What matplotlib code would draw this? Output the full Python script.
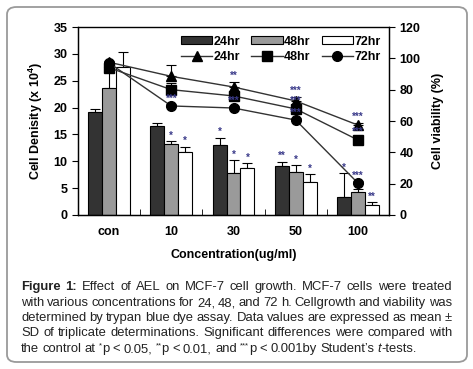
import matplotlib
matplotlib.use("Agg")
import matplotlib.pyplot as plt
import numpy as np
from matplotlib.patches import FancyBboxPatch

plt.rcParams['font.family'] = ['Liberation Sans', 'DejaVu Sans']
plt.rcParams['mathtext.fontset'] = 'custom'
plt.rcParams['mathtext.rm'] = 'Liberation Sans'
plt.rcParams['mathtext.bf'] = 'Liberation Sans:bold'
plt.rcParams['mathtext.it'] = 'Liberation Sans:italic'

# ---- data ----
groups = ['con', '10', '30', '50', '100']
hours = ['24hr', '48hr', '72hr']

# cell density (x 10^4), left axis
dens_24 = [19.1, 16.6, 13.1, 9.1, 3.3]
dens_48 = [23.7, 13.3, 7.9, 8.0, 4.3]
dens_72 = [27.5, 11.8, 8.8, 6.1, 1.8]
dens_24_err = [0.7, 0.6, 1.3, 0.8, 4.5]
dens_48_err = [3.5, 0.4, 2.3, 1.3, 0.5]
dens_72_err = [2.9, 0.9, 0.8, 1.5, 0.6]

# cell viability (%), right axis
via_24 = [97.5, 88.5, 81.7, 72.8, 57.4]
via_48 = [94.0, 80.0, 76.0, 67.7, 47.9]
via_72 = [97.0, 69.6, 68.3, 60.6, 20.4]
via_24_err = [0.5, 7.5, 3.5, 2.5, 1.5]
via_48_err = [0.5, 4.0, 1.5, 1.5, 1.5]
via_72_err = [0.5, 1.0, 1.0, 1.0, 1.0]

# significance marks
dens_stars = {
    '24hr': ['', '', '*', '**', '*'],
    '48hr': ['', '*', '*', '*', '*'],
    '72hr': ['', '*', '*', '*', '**'],
}
via_stars = {
    '24hr': ['', '', '**', '***', '***'],
    '48hr': ['', '', '', '***', '***'],
    '72hr': ['', '***', '***', '***', '***'],
}

# caption: "^" marks a superscript piece, "_i" an italic piece, "_b" bold
caption_lines = [
    "_bFigure 1: Effect of AEL on MCF-7 cell growth. MCF-7 cells were treated",
    "with various concentrations for 24, 48, and 72 h. Cellgrowth and viability was",
    "determined by trypan blue dye assay. Data values are expressed as mean \u00b1",
    "SD of triplicate determinations. Significant differences were compared with",
    "the control at ^*|p < 0.05, ^**|p < 0.01, and ^***|p < 0.001by Student\u2019s _it|-tests.",
]

# ---- figure ----
fig = plt.figure(figsize=(4.73, 3.69), dpi=100)
W, H = 473, 369

border = FancyBboxPatch((7 / W, 7 / H), 460 / W, 355 / H,
                        boxstyle="round,pad=0,rounding_size=0.02",
                        transform=fig.transFigure, fill=False,
                        edgecolor='#9a9a9a', linewidth=1.3)
fig.patches.append(border)

ax = fig.add_axes([78 / W, 1 - 215 / H, 311 / W, 188 / H])
ax2 = ax.twinx()

x = np.arange(len(groups))
bw = 0.225
bar_colors = ['#333333', '#9a9a9a', 'white']
dens = [dens_24, dens_48, dens_72]
dens_err = [dens_24_err, dens_48_err, dens_72_err]
star_col = '#3b3b8a'

bar_handles = []
for i, h in enumerate(hours):
    xs = x + (i - 1) * bw
    b = ax.bar(xs, dens[i], width=bw, color=bar_colors[i], edgecolor='black',
               linewidth=0.8, label=h, zorder=2)
    ax.errorbar(xs, dens[i], yerr=[np.zeros(len(x)), dens_err[i]], fmt='none',
                ecolor='black', elinewidth=0.8, capsize=3.5, capthick=0.8, zorder=1)
    bar_handles.append(b)
    for j in range(len(x)):
        s = dens_stars[h][j]
        if s:
            ax.text(xs[j], dens[i][j] + dens_err[i][j] + 0.1, s, ha='center', va='bottom',
                    fontsize=7, color=star_col, fontweight='bold')

ax.set_xlim(-0.5, len(groups) - 0.5)
ax.set_ylim(0, 35)
ax.set_yticks(np.arange(0, 36, 5))
ax.set_xticks(x)
ax.set_xticklabels(groups, fontsize=9, fontweight='bold')
ax.tick_params(axis='x', length=0, pad=8)
ax.set_xticks(np.arange(0.5, len(groups) - 0.5), minor=True)
ax.tick_params(axis='x', which='minor', direction='in', length=4)
ax.tick_params(axis='y', labelsize=9, length=4)
for lab in ax.get_yticklabels():
    lab.set_fontweight('bold')
ax.set_ylabel(r'Cell Denisity (x 10$^\mathbf{4}$)', fontsize=9, fontweight='bold', labelpad=6)
ax.set_xlabel('Concentration(ug/ml)', fontsize=9, fontweight='bold', labelpad=8)

via = [via_24, via_48, via_72]
via_err = [via_24_err, via_48_err, via_72_err]
markers = ['^', 's', 'o']
line_handles = []
for i, h in enumerate(hours):
    ax2.errorbar(x, via[i], yerr=[np.zeros(len(x)), via_err[i]], fmt='none',
                 ecolor='black', elinewidth=0.8, capsize=3.5, capthick=0.8)
    ln, = ax2.plot(x, via[i], color='#333333', linewidth=1.0, marker=markers[i],
                   markersize=7, markerfacecolor='black', markeredgecolor='black', label=h)
    line_handles.append(ln)
    for j in range(len(x)):
        s = via_stars[h][j]
        if s:
            ax2.text(x[j], via[i][j] + via_err[i][j] + 0.5, s, ha='center', va='bottom',
                     fontsize=7, color=star_col, fontweight='bold')

ax2.set_ylim(0, 120)
ax2.set_yticks(np.arange(0, 121, 20))
ax2.tick_params(axis='y', labelsize=9, length=4)
for lab in ax2.get_yticklabels():
    lab.set_fontweight('bold')
ax2.set_ylabel('Cell viability (%)', fontsize=9, fontweight='bold', labelpad=8)

for a in (ax, ax2):
    for sp in a.spines.values():
        sp.set_linewidth(0.9)
ax.spines['top'].set_color('#666666')

handles = [bar_handles[0], line_handles[0], bar_handles[1], line_handles[1],
           bar_handles[2], line_handles[2]]
labels = [h for h in hours for _ in range(2)]
ax2.legend(handles, labels, ncol=3, loc='upper right', bbox_to_anchor=(1.0, 1.0),
           frameon=False, prop={'weight': 'bold', 'size': 9}, handlelength=2.5,
           handleheight=0.6, handletextpad=0.1, columnspacing=0.9, labelspacing=0.25,
           borderaxespad=0.3)

# ---- caption (justified) ----
fig.canvas.draw()
renderer = fig.canvas.get_renderer()
x0, x1 = 21 / W, 452 / W
cap_size = 9.4
cap_col = '#222222'
line_y = [286, 302, 317, 332, 348]


def make_word(token, y):
    # a word is a list of text pieces drawn side by side
    pieces = []
    for part in token.split('|'):
        kw = dict(fontsize=cap_size, color=cap_col, va='baseline')
        yy = y
        if part.startswith('^'):
            part = part[1:]
            kw['fontsize'] = cap_size * 0.6
            yy = y + 4.5 / H
        elif part.startswith('_b'):
            part = part[2:]
            kw['fontweight'] = 'bold'
        elif part.startswith('_i'):
            part = part[2:]
            kw['style'] = 'italic'
        pieces.append(fig.text(x0, yy, part, **kw))
    return pieces


for k, line in enumerate(caption_lines):
    y = 1 - (line_y[k] + 4) / H
    tokens = line.split(' ')
    if k == 0:
        # "Figure 1:" is bold as a whole
        tokens = ['_bFigure', '_b1:'] + tokens[2:]
    words = [make_word(t, y) for t in tokens]
    widths = []
    for pcs in words:
        widths.append([p.get_window_extent(renderer).width / W for p in pcs])
    total = sum(sum(w) for w in widths)
    if k < len(caption_lines) - 1:
        gap = (x1 - x0 - total) / (len(words) - 1)
    else:
        gap = 3.3 / W
    pos = x0
    for pcs, ws in zip(words, widths):
        for p, wd in zip(pcs, ws):
            p.set_x(pos)
            pos += wd
        pos += gap

fig.savefig('out.png', dpi=100)
